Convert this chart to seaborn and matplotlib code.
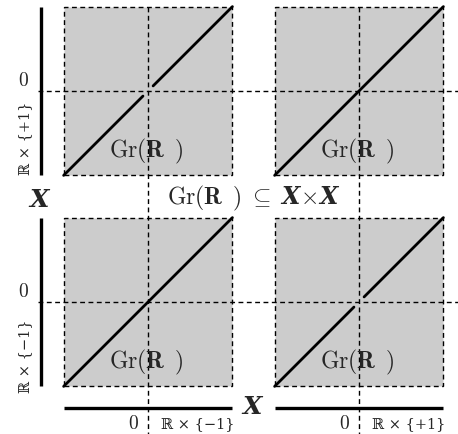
import numpy as np
import pandas as pd
import matplotlib
matplotlib.use("Agg")
import matplotlib.pyplot as plt
import seaborn as sns
from matplotlib.patches import Rectangle

sns.set_theme(style="white")
plt.rcParams['font.family'] = ['DejaVu Serif']
plt.rcParams['mathtext.fontset'] = 'custom'
plt.rcParams['mathtext.rm'] = 'cmr10'
plt.rcParams['mathtext.it'] = 'cmmi10'
plt.rcParams['mathtext.bf'] = 'DejaVu Serif:italic:bold'
plt.rcParams['mathtext.sf'] = 'cmb10'

# ---- data ----
col_signs = ["-1", "+1"]          # horizontal copy of R
row_signs = ["+1", "-1"]          # vertical copy of R (top row first)
col_centers = [0.0, 2.5]
row_centers = [0.0, -2.5]
gap = 0.06
full_seg = [[-1.0, 1.0]]
broken_segs = [[-1.0, -gap], [gap, 1.0]]
graph_label = r"$\mathrm{Gr}(\mathsf{R}\ \,)$"
center_label = r"$\mathrm{Gr}(\mathsf{R}\ \,)\ \subseteq\ \mathbf{X}\!\times\!\mathbf{X}$"
axis_label = r"$\mathbf{X}$"
zero_label = r"$0$"

# build line data
rows = []
sid = 0
for ri, rs in enumerate(row_signs):
    for ci, cs in enumerate(col_signs):
        segs = full_seg if rs == cs else broken_segs
        for a, b in segs:
            for t in (a, b):
                rows.append(dict(x=col_centers[ci] + t, y=row_centers[ri] + t, seg=sid))
            sid += 1
df = pd.DataFrame(rows)

fig = plt.figure(figsize=(4.58, 4.35), dpi=100)
ax = fig.add_axes([0, 0, 1, 1])

dash = (0, (3.5, 2.5))
for ri in range(2):
    for ci in range(2):
        cx, cy = col_centers[ci], row_centers[ri]
        ax.add_patch(Rectangle((cx - 1, cy - 1), 2, 2, facecolor="#cccccc",
                               edgecolor="black", lw=1.0, linestyle=dash, zorder=1))
        ax.text(cx - 0.02, cy - 0.71, graph_label, ha="center", va="center",
                fontsize=17, zorder=4)

# dashed zero lines
for cx in col_centers:
    ax.plot([cx, cx], [1.0, -4.064], color="black", lw=1.0, linestyle=dash, zorder=2)
for cy in row_centers:
    ax.plot([-1.30, 3.673], [cy, cy], color="black", lw=1.0, linestyle=dash, zorder=2)

# graph lines
sns.lineplot(data=df, x="x", y="y", units="seg", estimator=None, color="black",
             lw=2.0, ax=ax, zorder=3, legend=False)

# axis bars
for cy in row_centers:
    ax.plot([-1.268, -1.268], [cy - 1, cy + 1], color="black", lw=2.4, solid_capstyle="butt")
for cx in col_centers:
    ax.plot([cx - 1, cx + 1], [-3.756, -3.756], color="black", lw=2.4, solid_capstyle="butt")

# labels
ax.text(1.25, -1.256, center_label, ha="center", va="center", fontsize=17)
ax.text(-1.28, -1.28, axis_label, ha="center", va="center", fontsize=18)
ax.text(1.244, -3.744, axis_label, ha="center", va="center", fontsize=18)

ax.text(-1.457, -0.545, "ℝ × {+1}", rotation=90, ha="center", va="center", fontsize=10.5)
ax.text(-1.457, -3.128, "ℝ × {−1}", rotation=90, ha="center", va="center", fontsize=10.5)
for cy in row_centers:
    ax.text(-1.48, cy + 0.13, zero_label, ha="center", va="center", fontsize=14)
for ci, cx in enumerate(col_centers):
    ax.text(cx - 0.17, -3.934, zero_label, ha="center", va="center", fontsize=14)
    ax.text(cx + 0.59, -3.934, "ℝ × {" + ("−1" if ci == 0 else "+1") + "}",
            ha="center", va="center", fontsize=10.5)

ax.set_xlim(-1.754, 3.673)
ax.set_ylim(-4.064, 1.090)
ax.axis("off")
fig.savefig("out.png", dpi=100)
